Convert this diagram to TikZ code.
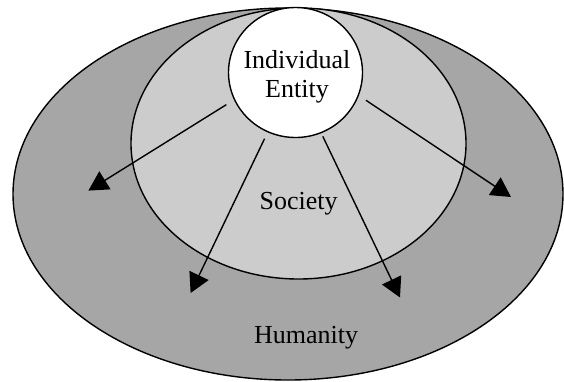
\documentclass[tikz,border=0pt]{standalone}
\usepackage{fontspec}
\setmainfont{Liberation Serif}
\usetikzlibrary{shapes.geometric,arrows.meta}
\definecolor{humfill}{RGB}{166,166,166}
\definecolor{socfill}{RGB}{204,204,204}
\tikzset{
  ring/.style={draw=black, line width=1.4pt, ellipse, inner sep=0pt},
  lbl/.style={font=\fontsize{26}{29}\selectfont, inner sep=0pt, anchor=base},
  spread/.style={line width=1.4pt, -{Triangle[length=19.5pt,width=21pt]}}
}
\begin{document}
\begin{tikzpicture}[x=1pt, y=-1pt]
  \useasboundingbox (0,0) rectangle (564,381);
  % nested spheres of influence
  \node[ring, fill=humfill, minimum width=550pt, minimum height=372pt] (hum) at (288,194) {};
  \node[ring, fill=socfill, minimum width=335pt, minimum height=271pt] (soc) at (298.5,143.5) {};
  \node[ring, fill=white, minimum width=134pt, minimum height=130pt] (ent) at (295.5,72.5) {};
  % labels (base anchor sits on the last line)
  \node[lbl, align=center] (enttext) at (297,97.3) {Individual\\Entity};
  \node[lbl] (soctext) at (298.7,209.3) {Society};
  \node[lbl] (humtext) at (306,343.3) {Humanity};
  % arrow tips
  \coordinate (t1) at (88.4,190.6);
  \coordinate (t2) at (190.6,293);
  \coordinate (t3) at (400,297.5);
  \coordinate (t4) at (511,197);
  % outward influence
  \draw[spread, shorten <=9pt] (ent.204) -- (t1);
  \draw[spread, shorten <=7pt] (ent.245) -- (t2);
  \draw[spread, shorten <=3.5pt] (ent.293) -- (t3);
  \draw[spread, shorten <=8.5pt] (ent.340) -- (t4);
\end{tikzpicture}
\end{document}
